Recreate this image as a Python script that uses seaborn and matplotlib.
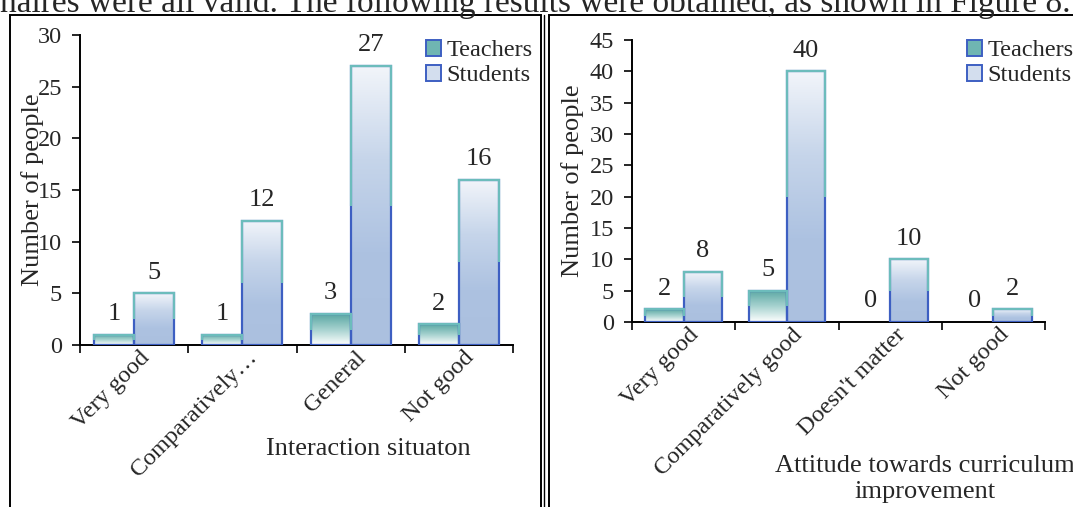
import matplotlib.pyplot as plt
import matplotlib.transforms as mtransforms
import numpy as np
import pandas as pd
import seaborn as sns
from matplotlib.colors import LinearSegmentedColormap
from matplotlib.patches import Rectangle, Patch
from matplotlib.lines import Line2D

sns.set_style('ticks')
plt.rcParams.update({
    'font.family': ['Liberation Serif', 'DejaVu Serif'],
    'font.size': 17.5,
    'axes.linewidth': 1.4,
    'xtick.major.width': 1.4,
    'ytick.major.width': 1.4,
    'xtick.minor.width': 1.4,
})

groups = ['Teachers', 'Students']
interaction_cats = ['Very good', 'Comparatively…', 'General', 'Not good']
interaction_teachers = [1, 1, 3, 2]
interaction_students = [5, 12, 27, 16]
attitude_cats = ['Very good', 'Comparatively good', "Doesn't matter", 'Not good']
attitude_teachers = [2, 5, 0, 0]
attitude_students = [8, 40, 10, 2]

W, H = 1073, 507
teal = '#6cbcbc'
blue = '#3d5fc2'
teacher_cmap = LinearSegmentedColormap.from_list('t', ['#5aa7a3', '#a6d2cf', '#ffffff'])
student_cmap = LinearSegmentedColormap.from_list('s', ['#f2f5fa', '#c6d5ea', '#adc2e1', '#abc0df'])


def px_axes(fig, x0, y0, x1, y1):
    return fig.add_axes([x0 / W, 1 - y1 / H, (x1 - x0) / W, (y1 - y0) / H])


def paint(ax, container, cmap, ytop):
    grad = np.linspace(0, 1, 256).reshape(-1, 1)
    for bar in container:
        h = bar.get_height()
        x, w = bar.get_x(), bar.get_width()
        bar.set_facecolor('none')
        bar.set_edgecolor('none')
        if h <= 0:
            continue
        im = ax.imshow(grad, cmap=cmap, extent=[x, x + w, 0, h], aspect='auto', zorder=2)
        im.set_clip_path(bar)
        lo = Rectangle((x, 0), w, h, fill=False, edgecolor=blue, lw=1.6, zorder=3)
        hi = Rectangle((x, 0), w, h, fill=False, edgecolor=teal, lw=1.6, zorder=3.1)
        ax.add_patch(lo)
        ax.add_patch(hi)
        clip = Rectangle((x - w, h * 0.5), 3 * w, h * 0.5 + ytop, transform=ax.transData)
        hi.set_clip_path(clip)


def panel(fig, box, cats, teachers, students, ymax, xlabel, xlabel_pos, ylabel_x, legend_xy):
    df = pd.DataFrame({
        'cat': cats * 2,
        'group': [groups[0]] * len(cats) + [groups[1]] * len(cats),
        'value': teachers + students,
    })
    ax = px_axes(fig, *box)
    sns.barplot(data=df, x='cat', y='value', hue='group', hue_order=groups,
                width=0.74, ax=ax, legend=False, errorbar=None)
    paint(ax, ax.containers[0], teacher_cmap, ymax)
    paint(ax, ax.containers[1], student_cmap, ymax)
    for c in ax.containers:
        ax.bar_label(c, fmt='%d', padding=7, fontsize=19)
    ax.set_xlim(-0.5, len(cats) - 0.5)
    ax.set_ylim(0, ymax)
    ax.set_yticks(np.arange(0, ymax + 1, 5))
    ax.set_xticks(range(len(cats)))
    ax.set_xticks(np.arange(-0.5, len(cats), 1), minor=True)
    ax.tick_params(axis='x', which='major', length=0, pad=4)
    ax.tick_params(axis='x', which='minor', length=6, direction='out')
    ax.tick_params(axis='y', length=6, direction='out', labelsize=17.5, pad=7)
    ax.set_xticklabels(cats, rotation=45, ha='right', va='center', rotation_mode='anchor', fontsize=17.5)
    shift = mtransforms.ScaledTranslation(12 / 100, -4 / 100, fig.dpi_scale_trans)
    for lab in ax.get_xticklabels():
        lab.set_transform(lab.get_transform() + shift)
    sns.despine(ax=ax)
    for s in ['left', 'bottom']:
        ax.spines[s].set_color('black')
    ax.set_xlabel(xlabel, fontsize=19, linespacing=1.25)
    ax.xaxis.set_label_coords(*xlabel_pos)
    ax.set_ylabel('Number of people', fontsize=19)
    ax.yaxis.set_label_coords(ylabel_x, 0.5)
    handles = [Patch(facecolor='#6fb5b2', edgecolor=blue, lw=1.4),
               Patch(facecolor='#d3deee', edgecolor=blue, lw=1.4)]
    ax.legend(handles, groups, loc='upper left', frameon=False, fontsize=17.5,
              bbox_to_anchor=(legend_xy[0] / W, 1 - legend_xy[1] / H),
              bbox_transform=fig.transFigure, borderpad=0, handlelength=0.6,
              handleheight=0.6, handletextpad=0.25, labelspacing=0.15)
    return ax


fig = plt.figure(figsize=(W / 100, H / 100), dpi=100)

fig.text(0.0, 1 - 12 / H, 'naires were all valid. The following results were obtained, as shown in Figure 8.',
         fontsize=24, ha='left', va='baseline')

# panel frames
fig.add_artist(Rectangle((10 / W, -0.1), (541 - 10) / W, 1.1 - 15 / H, transform=fig.transFigure,
                         fill=False, edgecolor='black', lw=1.4))
fig.add_artist(Line2D([544 / W, 544 / W], [-0.1, 1 - 15 / H], transform=fig.transFigure, color='black', lw=1.0))
fig.add_artist(Rectangle((549 / W, -0.1), 0.6, 1.1 - 15 / H, transform=fig.transFigure,
                         fill=False, edgecolor='black', lw=1.4))

panel(fig, (80, 35, 513, 345), interaction_cats, interaction_teachers, interaction_students, 30,
      'Interaction situaton', (0.665, -0.3), -0.083, (414, 28))
panel(fig, (632, 40, 1045, 322), attitude_cats, attitude_teachers, attitude_students, 45,
      'Attitude towards curriculum\nimprovement', (0.71, -0.47), -0.116, (955, 28))

fig.savefig('out.png', dpi=100)
